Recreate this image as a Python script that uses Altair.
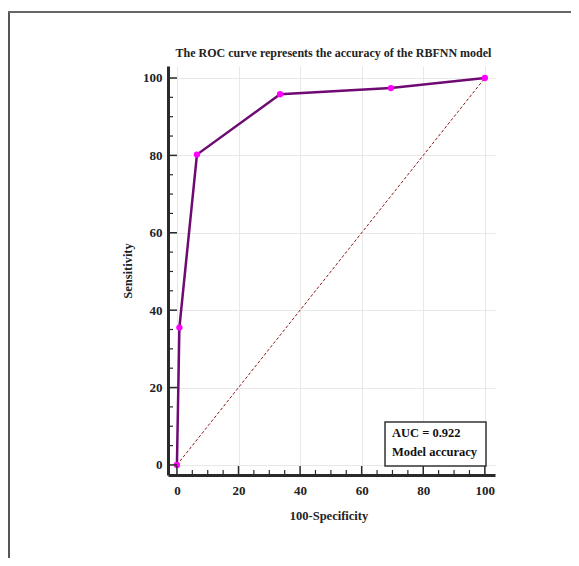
import altair as alt
import pandas as pd

# ROC points (100-Specificity, Sensitivity)
fpr = [0, 0.8, 6.5, 33.5, 69.5, 100]
tpr = [0, 35.5, 80.2, 95.8, 97.4, 100]
diag_x = [0, 100]
diag_y = [0, 100]
major_ticks = [0, 20, 40, 60, 80, 100]
minor_ticks = [v for v in range(0, 101, 5) if v % 20 != 0]
auc_lines = ["AUC = 0.922", "Model accuracy"]
title_text = "The ROC curve represents the accuracy of the RBFNN model"

W, H = 327, 409
FONT = "Liberation Serif"

roc = pd.DataFrame({"x": fpr, "y": tpr})
diag = pd.DataFrame({"x": diag_x, "y": diag_y})
one = pd.DataFrame({"a": [0]})

xs = alt.Scale(domain=[-2.9, 103.3], nice=False, zero=False)
ys = alt.Scale(domain=[-2.6, 103.1], nice=False, zero=False)

xaxis = alt.Axis(values=major_ticks, ticks=False, domainWidth=3, domainColor="#2a2a2a",
                 grid=True, gridColor="#e8e8e8", gridWidth=1,
                 labelFont=FONT, labelFontWeight="bold", labelFontSize=13, labelColor="#222",
                 labelPadding=9,
                 title="100-Specificity", titleFont=FONT, titleFontWeight="bold",
                 titleFontSize=12.5, titleColor="#222", titleX=W / 2 - 3, titleY=40,
                 titleBaseline="middle", titleAlign="center")
yaxis = alt.Axis(values=major_ticks, ticks=False, domainWidth=3, domainColor="#2a2a2a",
                 grid=True, gridColor="#e8e8e8", gridWidth=1,
                 labelFont=FONT, labelFontWeight="bold", labelFontSize=13, labelColor="#222",
                 labelPadding=6,
                 title="Sensitivity", titleFont=FONT, titleFontWeight="bold",
                 titleFontSize=12.5, titleColor="#222", titleX=-41, titleY=H / 2,
                 titleAngle=270, titleBaseline="middle", titleAlign="center")

base_diag = alt.Chart(diag).mark_line(color="#8b1a1a", strokeWidth=1, strokeDash=[3, 2]).encode(
    x=alt.X("x:Q", scale=xs, axis=xaxis),
    y=alt.Y("y:Q", scale=ys, axis=yaxis),
)

line = alt.Chart(roc).mark_line(color="#6e0a72", strokeWidth=2.5).encode(
    x=alt.X("x:Q", scale=xs), y=alt.Y("y:Q", scale=ys)
)
pts = alt.Chart(roc).mark_circle(color="#ff00ff", opacity=1, size=40).encode(
    x=alt.X("x:Q", scale=xs), y=alt.Y("y:Q", scale=ys)
)

xmaj = pd.DataFrame({"v": major_ticks})
xmin = pd.DataFrame({"v": minor_ticks})
tick_color = "#2a2a2a"
xt_major = alt.Chart(xmaj).mark_rule(color=tick_color, strokeWidth=1.5).encode(
    x=alt.X("v:Q", scale=xs), y=alt.value(H), y2=alt.value(H - 9))
xt_minor = alt.Chart(xmin).mark_rule(color=tick_color, strokeWidth=1.2).encode(
    x=alt.X("v:Q", scale=xs), y=alt.value(H), y2=alt.value(H - 5))
yt_major = alt.Chart(xmaj).mark_rule(color=tick_color, strokeWidth=1.5).encode(
    y=alt.Y("v:Q", scale=ys), x=alt.value(0), x2=alt.value(9))
yt_minor = alt.Chart(xmin).mark_rule(color=tick_color, strokeWidth=1.2).encode(
    y=alt.Y("v:Q", scale=ys), x=alt.value(0), x2=alt.value(5))

# AUC box
box = alt.Chart(one).mark_rect(
    fill="white", stroke="#333333", strokeWidth=1.5).encode(
    x=alt.value(217), x2=alt.value(318), y=alt.value(356), y2=alt.value(400))
txt1 = alt.Chart(one).mark_text(
    font=FONT, fontWeight="bold", fontSize=12.5, color="#111", align="left",
    baseline="middle", text=auc_lines[0]).encode(x=alt.value(224), y=alt.value(367))
txt2 = alt.Chart(one).mark_text(
    font=FONT, fontWeight="bold", fontSize=12.5, color="#111", align="left",
    baseline="middle", text=auc_lines[1]).encode(x=alt.value(224), y=alt.value(386))

# chart title
ttl = alt.Chart(one).mark_text(
    font=FONT, fontWeight="bold", fontSize=12, color="#222", align="center",
    baseline="middle", text=title_text).encode(x=alt.value(W / 2 + 2), y=alt.value(-13))

# outer frame
frame_left = alt.Chart(one).mark_rule(color="#555555", strokeWidth=2).encode(
    x=alt.value(-159), y=alt.value(-54), y2=alt.value(510))
frame_top = alt.Chart(one).mark_rule(color="#666666", strokeWidth=2).encode(
    x=alt.value(-160), x2=alt.value(430), y=alt.value(-54))

chart = alt.layer(
    base_diag, line, pts, xt_major, xt_minor, yt_major, yt_minor, box, txt1, txt2, ttl,
    frame_left, frame_top
).properties(
    width=W, height=H,
    autosize=alt.AutoSizeParams(type="none"),
    padding={"left": 160, "top": 58, "right": 76, "bottom": 83},
).configure_view(stroke=None)

chart.save("out.html", embed_options={"renderer": "svg", "actions": False})
